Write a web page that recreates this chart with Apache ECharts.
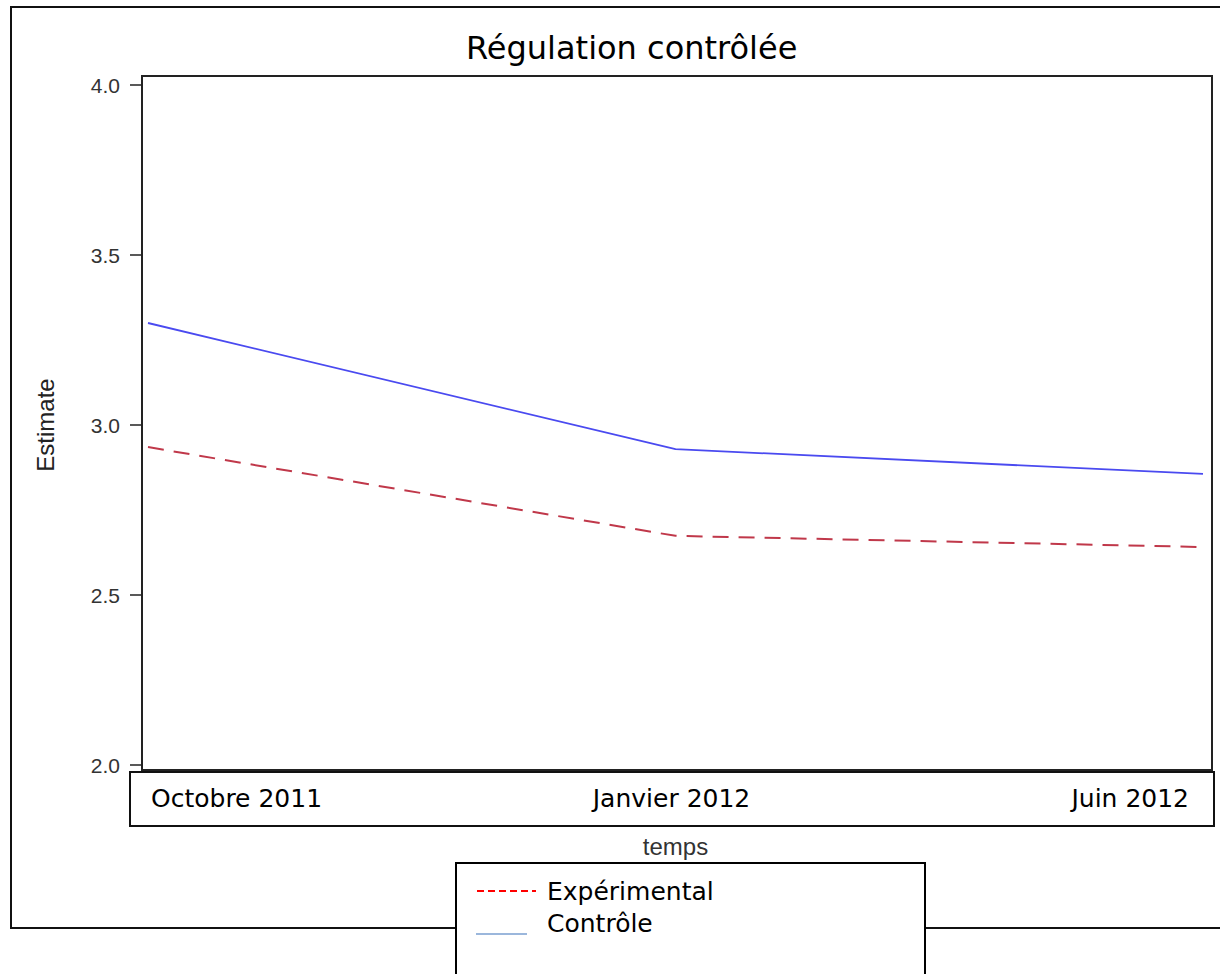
<!DOCTYPE html>
<html>
<head>
<meta charset="utf-8">
<script src="https://cdn.jsdelivr.net/npm/echarts@6/dist/echarts.min.js"></script>
<style>
  html, body { margin: 0; padding: 0; background: #fff; }
  #chart { width: 1220px; height: 974px; }
</style>
</head>
<body>
<div id="chart"></div>
<script>
// données
var periodes = ['Octobre 2011', 'Janvier 2012', 'Juin 2012']
var experimental = [2.935, 2.674, 2.641]
var controle = [3.300, 2.929, 2.856]
var yTicks = [2.0, 2.5, 3.0, 3.5, 4.0]

var chart = echarts.init(document.getElementById('chart'), null, { renderer: 'svg' })

var option = {
  backgroundColor: '#fff',
  animation: false,
  title: {
    text: 'Régulation contrôlée',
    left: 461,
    top: 27,
    textStyle: { fontFamily: 'DejaVu Sans', fontSize: 32, fontWeight: 'normal', color: '#000' }
  },
  grid: { left: 148, right: 17, top: 85, height: 680 },
  xAxis: {
    type: 'category',
    boundaryGap: false,
    data: periodes,
    axisLine: { show: false },
    axisTick: { show: false },
    axisLabel: {
      margin: 21,
      fontFamily: 'DejaVu Sans',
      fontSize: 25,
      color: '#000',
      alignMinLabel: 'left',
      alignMaxLabel: 'right',
      formatter: function (v, i) {
        if (i === 0) return '{a|' + v + '}'
        if (i === periodes.length - 1) return '{c|' + v + '}'
        return '{b|' + v + '}'
      },
      rich: {
        a: { fontFamily: 'DejaVu Sans', fontSize: 25, color: '#000', padding: [0, 0, 0, 3] },
        b: { fontFamily: 'DejaVu Sans', fontSize: 25, color: '#000', padding: [0, 8, 0, 0] },
        c: { fontFamily: 'DejaVu Sans', fontSize: 25, color: '#000', padding: [0, 14, 0, 0] }
      }
    },
    name: 'temps',
    nameLocation: 'middle',
    nameGap: 69,
    nameTextStyle: { fontFamily: 'Liberation Sans', fontSize: 24, color: '#333' }
  },
  yAxis: {
    type: 'value',
    min: yTicks[0],
    max: yTicks[yTicks.length - 1],
    interval: 0.5,
    offset: 6,
    splitLine: { show: false },
    axisLine: { show: true, lineStyle: { color: '#222', width: 2 } },
    axisTick: { show: true, length: 12, lineStyle: { color: '#222', width: 1.5 } },
    axisLabel: {
      margin: 22,
      fontFamily: 'Liberation Sans',
      fontSize: 21,
      color: '#333',
      formatter: function (v) { return v.toFixed(1) }
    },
    name: 'Estimate',
    nameLocation: 'middle',
    nameGap: 85,
    nameTextStyle: { fontFamily: 'Liberation Sans', fontSize: 24, color: '#222' }
  },
  series: [
    {
      name: 'Expérimental',
      type: 'line',
      data: experimental,
      symbol: 'none',
      lineStyle: { color: '#c0384a', width: 2, type: [16, 10] }
    },
    {
      name: 'Contrôle',
      type: 'line',
      data: controle,
      symbol: 'none',
      lineStyle: { color: '#4a4af0', width: 1.8 }
    }
  ],
  graphic: [
    // cadre extérieur
    { type: 'rect', shape: { x: 11, y: 7, width: 1230, height: 921 }, style: { fill: 'none', stroke: '#111', lineWidth: 2 }, z: 1 },
    // cadre de la zone de tracé
    { type: 'rect', shape: { x: 142, y: 76, width: 1070, height: 694 }, style: { fill: 'none', stroke: '#222', lineWidth: 2 }, z: 1 },
    // boîte des catégories
    { type: 'rect', shape: { x: 130, y: 772, width: 1084, height: 54 }, style: { fill: '#fff', stroke: '#111', lineWidth: 2 }, z: 0 },
    // légende
    { type: 'rect', shape: { x: 456, y: 863, width: 469, height: 130 }, style: { fill: '#fff', stroke: '#000', lineWidth: 2 }, z: 5 },
    { type: 'line', shape: { x1: 477, y1: 891, x2: 536, y2: 891 }, style: { stroke: '#ff0000', lineWidth: 2, lineDash: [7, 4] }, z: 6 },
    { type: 'text', style: { x: 547, y: 891, text: 'Expérimental', fontFamily: 'DejaVu Sans', fontSize: 25, fill: '#000', verticalAlign: 'middle' }, z: 6 },
    { type: 'line', shape: { x1: 476, y1: 934, x2: 527, y2: 934 }, style: { stroke: '#7a9fd0', lineWidth: 1.5 }, z: 6 },
    { type: 'text', style: { x: 547, y: 923, text: 'Contrôle', fontFamily: 'DejaVu Sans', fontSize: 25, fill: '#000', verticalAlign: 'middle' }, z: 6 }
  ]
}

chart.setOption(option)
</script>
</body>
</html>
